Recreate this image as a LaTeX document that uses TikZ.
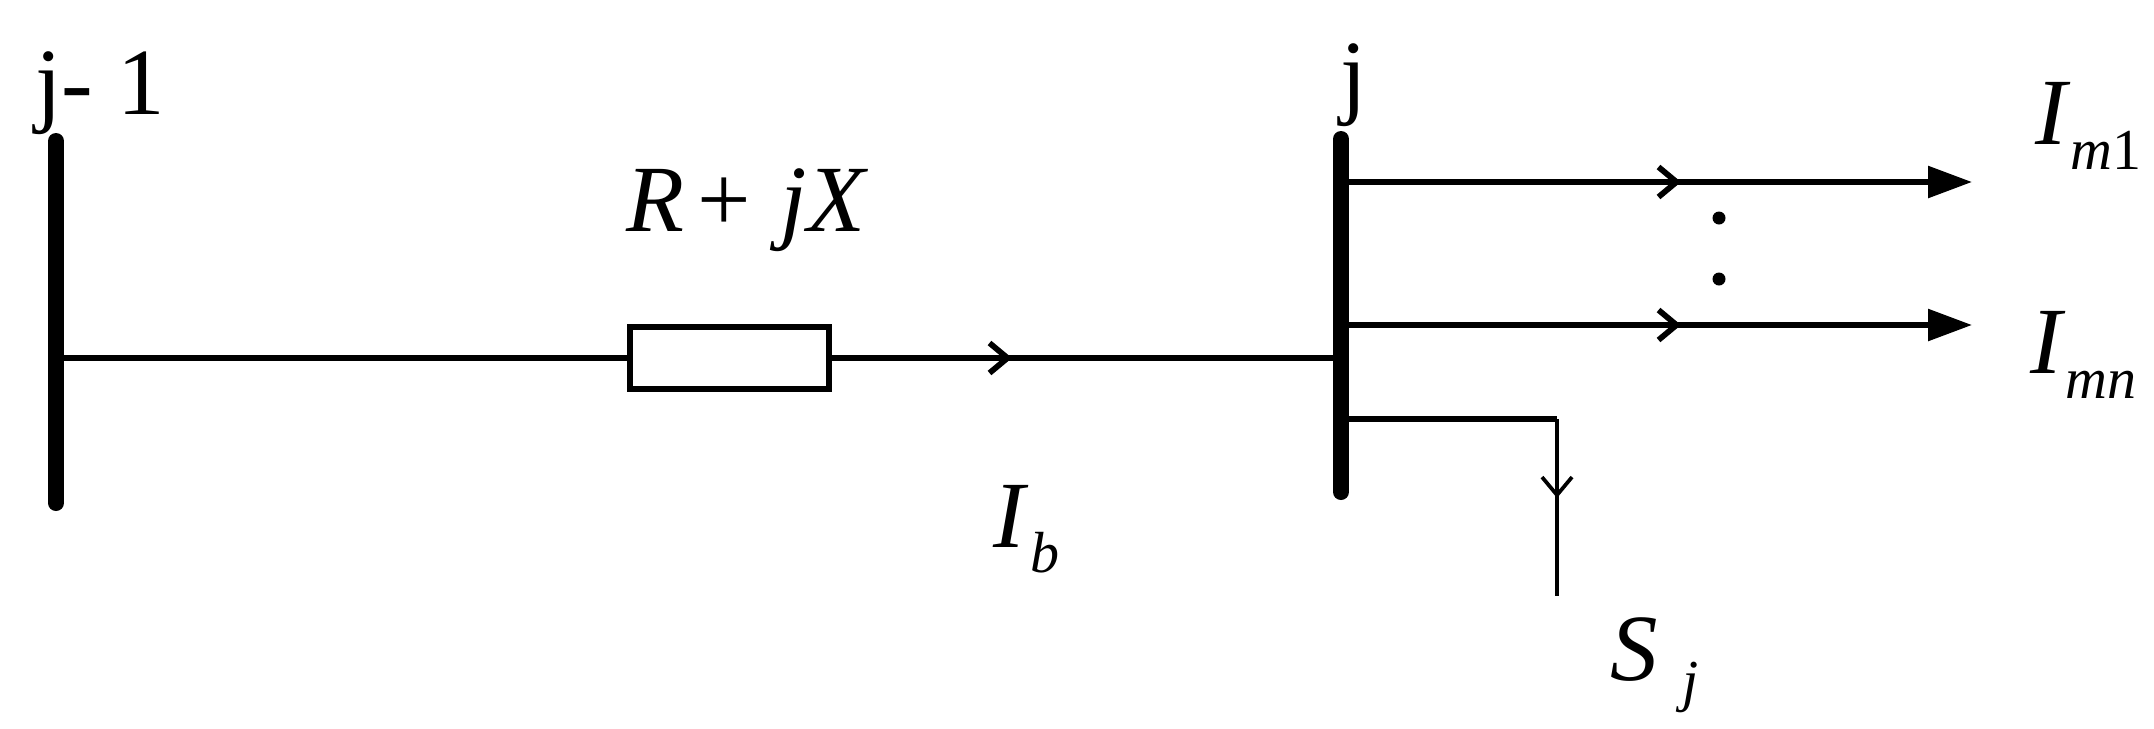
\documentclass[tikz,border=0pt]{standalone}
\usepackage{fontspec}
\setmainfont{Liberation Serif}
\usetikzlibrary{arrows.meta}
\tikzstyle{busbar} = [draw,line width=0.32cm,line cap=round]
\tikzstyle{edge} = [draw,line width=0.115cm]
\tikzstyle{thinedge} = [draw,line width=0.075cm]
\tikzstyle{flow} = [-{Straight Barb[length=0.36cm,width=0.6cm]}]
\tikzstyle{outflow} = [-{Triangle[length=0.88cm,width=0.62cm]}]
\tikzstyle{zbox} = [draw,fill=white,line width=0.12cm,minimum width=4.0cm,minimum height=1.24cm,inner sep=0pt]
\tikzstyle{dotmark} = [circle,fill=black,minimum size=0.26cm,inner sep=0pt]
\tikzstyle{tag} = [anchor=base west,inner sep=0pt,font=\fontsize{54}{60}\selectfont]
\newcommand{\cursub}[2]{\textit{#1}\raisebox{-0.5cm}{\fontsize{33}{36}\selectfont #2}}

\begin{document}
\begin{tikzpicture}[x=0.02cm,y=-0.02cm]
    \useasboundingbox (0,0) rectangle (2154,728);
    % First the impedance and the two dots
    \node[zbox] (line) at (729.5,358) {};
    \foreach \pos/\name in {{(1719,218)/d1}, {(1719,279)/d2}}
        \node[dotmark] (\name) at \pos {};
    % Then the points on the two buses and on the lines
    \foreach \pos/\name in {{(56,141)/At}, {(56,503)/Ab}, {(56,358)/Al}, {(1341,139)/Bt}, {(1341,492)/Bb}, {(1341,358)/Bl}, {(1341,182)/Bo}, {(1341,325)/Bn}, {(1341,419)/Bs}, {(1012,358)/Fb}, {(1681,182)/Fo}, {(1681,325)/Fn}, {(1972,182)/Eo}, {(1972,325)/En}, {(1557,419)/Ks}, {(1557,498)/Fs}, {(1557,596)/Es}}
        \node[coordinate] (\name) at \pos {};
    % Then the buses and the lines
    \foreach \source/ \dest in {At/Ab, Bt/Bb}
        \path[busbar] (\source) -- (\dest) ;
    \path[edge] (Al) -- (line.west) ;
    \path[edge] (line.east) -- (Bl) ;
    \path[edge,flow] (line.east) -- (Fb) ;
    \path[edge] (Bs) -- (Ks) ;
    \foreach \source/ \via/ \dest in {Bo/Fo/Eo, Bn/Fn/En}
    {
        \path[edge,outflow] (\source) -- (\dest) ;
        \path[edge,flow] (\source) -- (\via) ;
    }
    \path[thinedge] (Ks) -- (Es) ;
    \path[thinedge,flow] (Ks) -- (Fs) ;
    % Labels
    \node[tag] (busA) at (35,114) {j- 1};
    \node[tag] (busB) at (1340,106) {j};
    \node[tag] (zlab) at (626,231) {\textit{R}\hspace{0.26cm}+\hspace{0.6cm}\textit{jX}};
    \node[tag] (Ib) at (993,547) {\cursub{I}{\hspace{0.04cm}\textit{b}}};
    \node[tag] (Im) at (2035,144) {\cursub{I}{\textit{m}1}};
    \node[tag] (In) at (2030,373) {\cursub{I}{\textit{mn}}};
    \node[tag] (Sj) at (1610,680) {\textit{S}\hspace{0.5cm}\raisebox{-0.4cm}{\fontsize{33}{36}\selectfont\textit{j}}};
\end{tikzpicture}
\end{document}
